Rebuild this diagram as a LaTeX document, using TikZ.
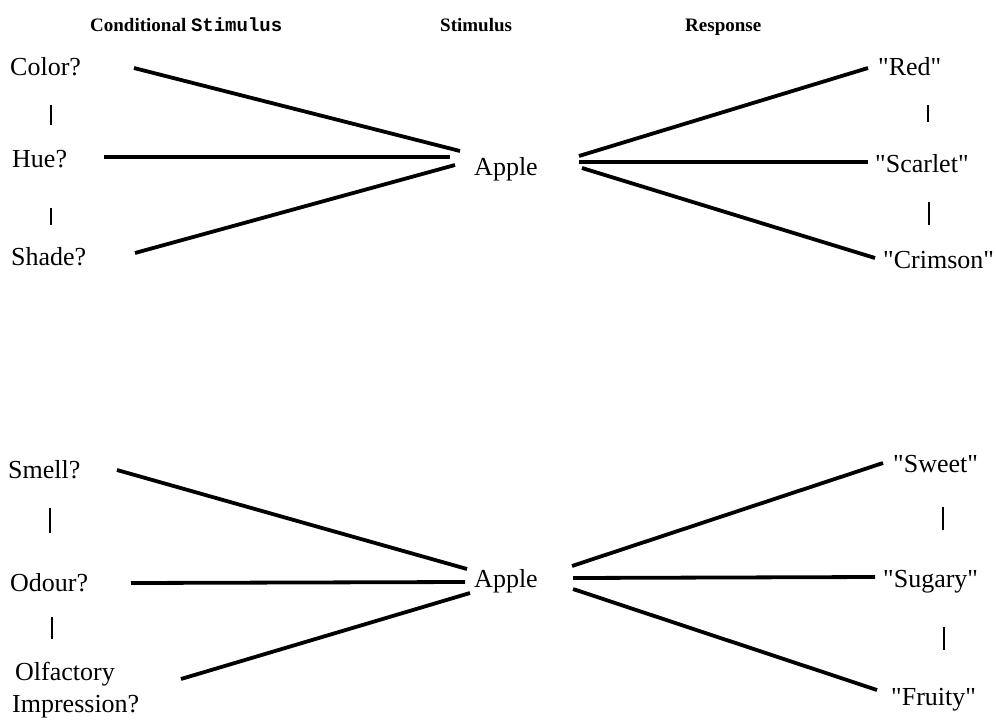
\documentclass[tikz,border=0pt]{standalone}
\usepackage{fontspec}
\setmainfont{Liberation Serif}
\setmonofont{Liberation Mono}
\usetikzlibrary{calc}
\newcommand\qq{\textquotedbl}
\begin{document}
\begin{tikzpicture}[x=1pt,y=-1pt,
  lbl/.style={inner sep=0pt,anchor=base west,font=\fontsize{26}{32}\selectfont},
  hdr/.style={inner sep=0pt,anchor=base west,font=\fontsize{19}{23}\selectfont\bfseries},
  link/.style={line width=3.8pt},
  bar/.style={line width=2.4pt}]
\useasboundingbox (0,0) rectangle (996,720);
% header
\node[hdr] (h1) at (90,31) {Conditional \texttt{Stimulus}};
\node[hdr] (h2) at (440,31) {Stimulus};
\node[hdr] (h3) at (685,31) {Response};
% top group
\node[lbl] (color) at (10,75) {Color?};
\node[lbl] (hue) at (12,167) {Hue?};
\node[lbl] (shade) at (11,265) {Shade?};
\node[lbl,anchor=base] (apple1) at (506,175) {Apple};
\node[lbl] (red) at (878,75) {\qq Red\qq};
\node[lbl] (scarlet) at (875,172) {\qq Scarlet\qq};
\node[lbl] (crimson) at (883,268) {\qq Crimson\qq};
\draw[link] ($(color.base west)+(124,-7)$) -- ($(apple1.base)+(-46,-24)$);
\draw[link] ($(hue.base west)+(92,-10)$) -- ($(apple1.base)+(-56,-18)$);
\draw[link] ($(shade.base west)+(124,-12)$) -- ($(apple1.base)+(-51,-10)$);
\draw[link] ($(apple1.base)+(73,-19)$) -- ($(red.base west)+(-10,-7)$);
\draw[link] ($(apple1.base)+(73,-13)$) -- ($(scarlet.base west)+(-7,-10)$);
\draw[link] ($(apple1.base)+(76,-7)$) -- ($(crimson.base west)+(-8,-10)$);
\draw[bar] ($(color.base west)+(41,30)$) -- ($(hue.base west)+(39,-42)$);
\draw[bar] ($(hue.base west)+(39,41)$) -- ($(shade.base west)+(40,-40)$);
\draw[bar] ($(red.base west)+(50,30)$) -- ($(scarlet.base west)+(53,-50)$);
\draw[bar] ($(scarlet.base west)+(54,30)$) -- ($(crimson.base west)+(46,-43)$);
% bottom group
\node[lbl] (smell) at (8,478) {Smell?};
\node[lbl] (odour) at (10,591) {Odour?};
\node[lbl] (olf1) at (15,680) {Olfactory};
\node[lbl] (olf2) at (12,712) {Impression?};
\node[lbl,anchor=base] (apple2) at (506,587) {Apple};
\node[lbl] (sweet) at (893,472) {\qq Sweet\qq};
\node[lbl] (sugary) at (883,587) {\qq Sugary\qq};
\node[lbl] (fruity) at (891,705) {\qq Fruity\qq};
\draw[link] ($(smell.base west)+(109,-8)$) -- ($(apple2.base)+(-39,-18)$);
\draw[link] ($(odour.base west)+(121,-8)$) -- ($(apple2.base)+(-41,-5)$);
\draw[link] ($(olf1.base west)+(166,-1)$) -- ($(apple2.base)+(-36,6)$);
\draw[link] ($(apple2.base)+(66,-21)$) -- ($(sweet.base west)+(-10,-9)$);
\draw[link] ($(apple2.base)+(67,-9)$) -- ($(sugary.base west)+(-8,-10)$);
\draw[link] ($(apple2.base)+(67,2)$) -- ($(fruity.base west)+(-14,-15)$);
\draw[bar] ($(smell.base west)+(42,30)$) -- ($(odour.base west)+(40,-58)$);
\draw[bar] ($(odour.base west)+(42,26)$) -- ($(olf1.base west)+(37,-41)$);
\draw[bar] ($(sweet.base west)+(50,35)$) -- ($(sugary.base west)+(60,-57)$);
\draw[bar] ($(sugary.base west)+(61,40)$) -- ($(fruity.base west)+(53,-55)$);
\end{tikzpicture}
\end{document}
